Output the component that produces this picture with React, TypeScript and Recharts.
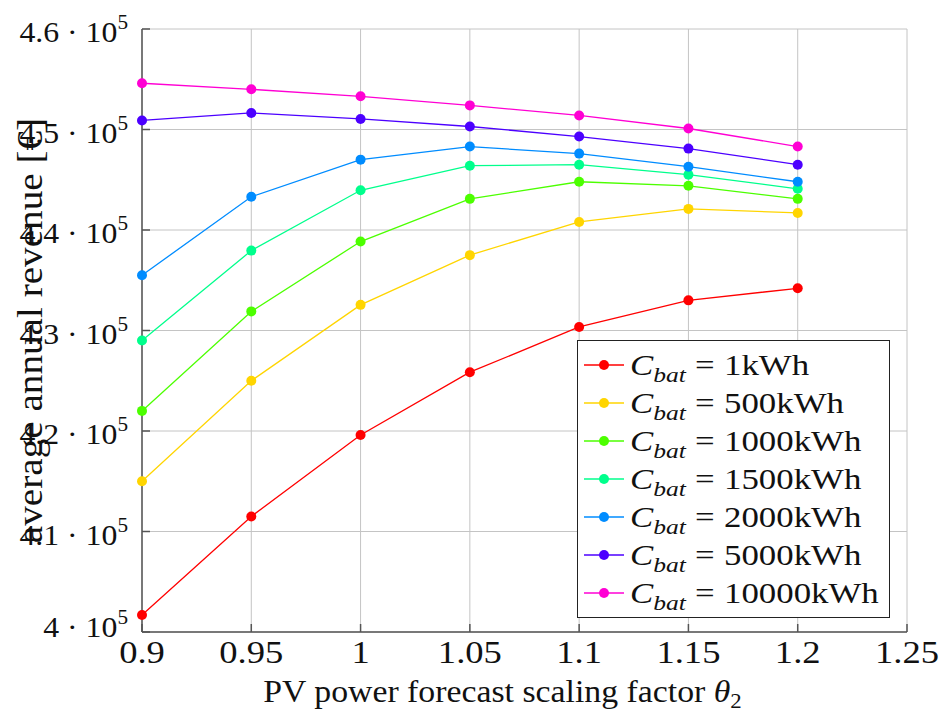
import React from "react";
import { LineChart, Line, XAxis, YAxis, CartesianGrid, Legend } from "recharts";

const FONT = "'Liberation Serif', 'Times New Roman', serif";

const scaling = [0.9, 0.95, 1, 1.05, 1.1, 1.15, 1.2];
const xTicks = [0.9, 0.95, 1, 1.05, 1.1, 1.15, 1.2, 1.25];
const yTicks = [400000, 410000, 420000, 430000, 440000, 450000, 460000];

const cap1 = [401700, 411500, 419600, 425850, 430350, 433000, 434200];
const cap500 = [415000, 425000, 432550, 437500, 440800, 442100, 441700];
const cap1000 = [422000, 431900, 438850, 443100, 444800, 444400, 443100];
const cap1500 = [429000, 437950, 443950, 446400, 446500, 445500, 444100];
const cap2000 = [435500, 443300, 447000, 448300, 447600, 446300, 444800];
const cap5000 = [450900, 451650, 451050, 450300, 449300, 448100, 446500];
const cap10000 = [454600, 454000, 453300, 452400, 451400, 450100, 448300];

const series = [
  { key: "c1", label: "1kWh", color: "#ff0000", values: cap1 },
  { key: "c500", label: "500kWh", color: "#ffd500", values: cap500 },
  { key: "c1000", label: "1000kWh", color: "#4cff00", values: cap1000 },
  { key: "c1500", label: "1500kWh", color: "#00ff8c", values: cap1500 },
  { key: "c2000", label: "2000kWh", color: "#008cff", values: cap2000 },
  { key: "c5000", label: "5000kWh", color: "#4c00ff", values: cap5000 },
  { key: "c10000", label: "10000kWh", color: "#ff00d4", values: cap10000 },
];

const data = scaling.map((x, i) => {
  const row: Record<string, number> = { x };
  series.forEach((s) => (row[s.key] = s.values[i]));
  return row;
});

function YTick(props: any) {
  const { x, y, payload, index } = props;
  const m = payload.value / 100000;
  const base = index === 0 ? y + 5 : y + 13;
  return (
    <g>
      <line x1={x} x2={x + 8} y1={y} y2={y} stroke="#555" strokeWidth={1.5} />
      <text
        transform={`translate(${x - 14} ${base}) scale(1.06 1)`}
        textAnchor="end"
        fontFamily={FONT}
        fontSize={30}
        fill="#111"
      >
        <tspan>{`${m} · 10`}</tspan>
        <tspan fontSize={20} dy={-13}>5</tspan>
      </text>
    </g>
  );
}

function XTick(props: any) {
  const { x, y, payload } = props;
  return (
    <g>
      <line x1={x} x2={x} y1={y} y2={y - 8} stroke="#555" strokeWidth={1.5} />
      <text
        transform={`translate(${x} ${y + 31}) scale(1.18 1)`}
        textAnchor="middle"
        fontFamily={FONT}
        fontSize={31}
        fill="#111"
      >
        {payload.value}
      </text>
    </g>
  );
}

function YTitle(props: any) {
  const { viewBox } = props;
  const cx = viewBox.x + 42;
  const cy = viewBox.y + viewBox.height / 2;
  return (
    <text
      transform={`translate(${cx} ${cy}) rotate(-90) scale(1.12 1)`}
      textAnchor="middle"
      fontFamily={FONT}
      fontSize={35}
      fill="#111"
    >
      average annual revenue [€]
    </text>
  );
}

function XTitle(props: any) {
  const { viewBox } = props;
  const cx = viewBox.x + viewBox.width / 2 - 22;
  return (
    <text
      transform={`translate(${cx} ${viewBox.y + 70}) scale(1.09 1)`}
      textAnchor="middle"
      fontFamily={FONT}
      fontSize={31}
      fill="#111"
    >
      <tspan>PV power forecast scaling factor </tspan>
      <tspan fontStyle="italic">θ</tspan>
      <tspan fontSize={21} dy={6}>2</tspan>
    </text>
  );
}

function LegendBox() {
  return (
    <div
      style={{
        border: "1px solid #222",
        background: "#fff",
        padding: "5px 0",
        fontFamily: FONT,
        color: "#111",
        boxSizing: "border-box",
        width: 313,
      }}
    >
      {series.map((s) => (
        <div key={s.key} style={{ height: 38, display: "flex", alignItems: "center" }}>
          <svg width={52} height={38} style={{ flex: "none" }}>
            <line x1={6} x2={46} y1={19} y2={19} stroke={s.color} strokeWidth={1.3} />
            <circle cx={26} cy={19} r={5} fill={s.color} />
          </svg>
          <span
            style={{
              fontSize: 30,
              lineHeight: "38px",
              whiteSpace: "nowrap",
              paddingTop: 2,
              display: "inline-block",
              transform: "scaleX(1.16)",
              transformOrigin: "left center",
            }}
          >
            <span style={{ fontStyle: "italic" }}>C</span>
            <span style={{ fontStyle: "italic", fontSize: 22, position: "relative", top: 7 }}>bat</span>
            <span style={{ margin: "0 8px" }}>=</span>
            <span>{s.label}</span>
          </span>
        </div>
      ))}
    </div>
  );
}

export default function App() {
  return (
    <div style={{ position: "absolute", left: 0, top: 0, width: 940, height: 715, background: "#fff" }}>
      <LineChart width={940} height={715} data={data} margin={{ top: 29, right: 33, bottom: 0, left: 0 }}>
        <CartesianGrid stroke="#c4c4c4" strokeWidth={1} />
        <XAxis
          dataKey="x"
          type="number"
          domain={[0.9, 1.25]}
          ticks={xTicks}
          height={83}
          tickSize={0}
          tickMargin={0}
          tickLine={false}
          axisLine={{ stroke: "#555", strokeWidth: 1.5 }}
          tick={<XTick />}
          interval={0}
          label={<XTitle />}
        />
        <YAxis
          type="number"
          domain={[400000, 460000]}
          ticks={yTicks}
          width={142}
          tickSize={0}
          tickMargin={0}
          tickLine={false}
          axisLine={{ stroke: "#555", strokeWidth: 1.5 }}
          tick={<YTick />}
          interval={0}
          label={<YTitle />}
        />
        <Legend
          layout="vertical"
          align="center"
          verticalAlign="middle"
          content={<LegendBox />}
          wrapperStyle={{ left: 577, top: 340, width: 313, height: 277 }}
        />
        {series.map((s) => (
          <Line
            key={s.key}
            dataKey={s.key}
            stroke={s.color}
            strokeWidth={1.3}
            dot={{ r: 5, fill: s.color, stroke: "none" }}
            activeDot={false}
            isAnimationActive={false}
            type="linear"
          />
        ))}
      </LineChart>
    </div>
  );
}
